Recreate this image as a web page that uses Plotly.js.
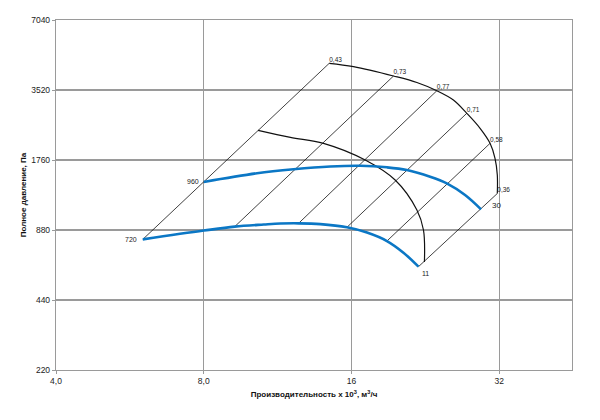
<!DOCTYPE html>
<html>
<head>
<meta charset="utf-8">
<script src="https://cdn.plot.ly/plotly-3.0.1.min.js"></script>
<style>
  html, body { margin: 0; padding: 0; background: #fff; }
  #chart { width: 600px; height: 420px; }
</style>
</head>
<body>
<div id="chart"></div>
<script>
// Fan performance chart, log-log axes (Q x 10^3 m3/h vs total pressure Pa)

// outer curve with efficiency points
const effLabels = ['0,43', '0,73', '0,77', '0,71', '0,58', '0,36'];
const effQ = [14.41, 19.48, 23.87, 27.47, 30.64, 31.7];
const effP = [4585, 4043, 3495, 2795, 2076, 1263];
const envQ = [14.41, 16.15, 19.48, 21.74, 23.87, 25.8, 27.47, 29.24, 30.64, 31.36, 31.7, 31.7];
const envP = [4585, 4434, 4043, 3791, 3495, 3188, 2795, 2409, 2076, 1790, 1517, 1263];

// lower ends of the system lines (on the 720 curve)
const rayQ0 = [6.01, 9.25, 12.48, 15.66, 18.89, 21.9];
const rayP0 = [802, 910, 940, 904, 789, 612];

// black middle curve
const midQ = [10.32, 12.01, 14.03, 17.06, 19.63, 21.74, 22.42, 22.52];
const midP = [2362, 2203, 2076, 1760, 1444, 1073, 880, 641];

// blue speed curves
const q960 = [8, 10.27, 12.19, 14.48, 16.67, 18.89, 20.74, 23.13, 25.01, 27.25, 29.37];
const p960 = [1416, 1543, 1605, 1650, 1662, 1637, 1594, 1492, 1397, 1245, 1080];
const q720 = [6.01, 8, 9.25, 10.6, 11.46, 12.48, 13.82, 15.66, 17.2, 18.89, 20.41, 21.9];
const p720 = [802, 875, 910, 929, 938, 940, 933, 904, 858, 789, 703, 612];

const xTicks = [4, 8, 16, 32];
const xTickText = ['4,0', '8,0', '16', '32'];
const yTicks = [220, 440, 880, 1760, 3520, 7040];

const FONT = '"Liberation Sans", Arial, sans-serif';
const BLUE = '#0b77c5';
const GRID = '#9a9a9a';

// system lines joined into one trace, broken by nulls
const rayX = [], rayY = [];
rayQ0.forEach((q, i) => {
    rayX.push(q, effQ[i], null);
    rayY.push(rayP0[i], effP[i], null);
});

const last = arr => arr[arr.length - 1];
const curve = (x, y, color, width) => ({
    x, y, mode: 'lines', hoverinfo: 'skip',
    line: { color, width, shape: 'spline', smoothing: 1 },
});

const traces = [
    { x: rayX, y: rayY, mode: 'lines', line: { color: '#111', width: 0.8 } },
    curve(envQ, envP, '#111', 1.2),
    curve(midQ, midP, '#111', 1.2),
    curve(q960, p960, BLUE, 2.6),
    curve(q720, p720, BLUE, 2.6),
    // efficiency labels
    {
        x: effQ, y: effP, text: effLabels, mode: 'text',
        textposition: 'top right',
        textfont: { family: FONT, size: 6.5, color: '#222' },
    },
];

// speed / end labels (annotation coords are log10 on log axes)
const label = (q, p, text, xanchor, yanchor, xshift, yshift, size) => ({
    x: Math.log10(q), y: Math.log10(p), text, showarrow: false,
    xanchor, yanchor, xshift, yshift,
    font: { family: FONT, size, color: '#222' },
});

const annotations = [
    label(q960[0], p960[0], '960', 'right', 'middle', -3, 0, 7),
    label(q720[0], p720[0], '720', 'right', 'middle', -4, 0, 7),
    label(last(q960), last(p960), '30', 'left', 'middle', 9, 4, 8),
    label(last(q720), last(p720), '11', 'left', 'top', 2, -1, 7),
];

const axisBase = {
    type: 'log',
    showgrid: true, gridcolor: GRID, gridwidth: 1.2,
    showline: true, linecolor: GRID, linewidth: 1.2, mirror: true,
    ticks: 'outside', ticklen: 3, tickcolor: GRID,
    zeroline: false,
    tickfont: { family: FONT, size: 8.5, color: '#222' },
};

const layout = {
    width: 600, height: 420,
    paper_bgcolor: '#fff', plot_bgcolor: '#fff',
    margin: { l: 56, r: 28, t: 20, b: 50 },
    showlegend: false,
    font: { family: FONT, color: '#222' },
    annotations,
    xaxis: {
        ...axisBase,
        range: [Math.log10(4), Math.log10(45)],
        tickvals: xTicks, ticktext: xTickText,
        title: { text: '<b>Производительность x 10<sup>3</sup>, м<sup>3</sup>/ч</b>', font: { family: FONT, size: 8, color: '#111' }, standoff: 6 },
    },
    yaxis: {
        ...axisBase,
        range: [Math.log10(220), Math.log10(7040)],
        tickvals: yTicks, ticktext: yTicks.map(String),
        title: { text: '<b>Полное давление, Па</b>', font: { family: FONT, size: 8, color: '#111' }, standoff: 3 },
    },
};

Plotly.newPlot('chart', traces, layout, { displayModeBar: false, staticPlot: true });
</script>
</body>
</html>
